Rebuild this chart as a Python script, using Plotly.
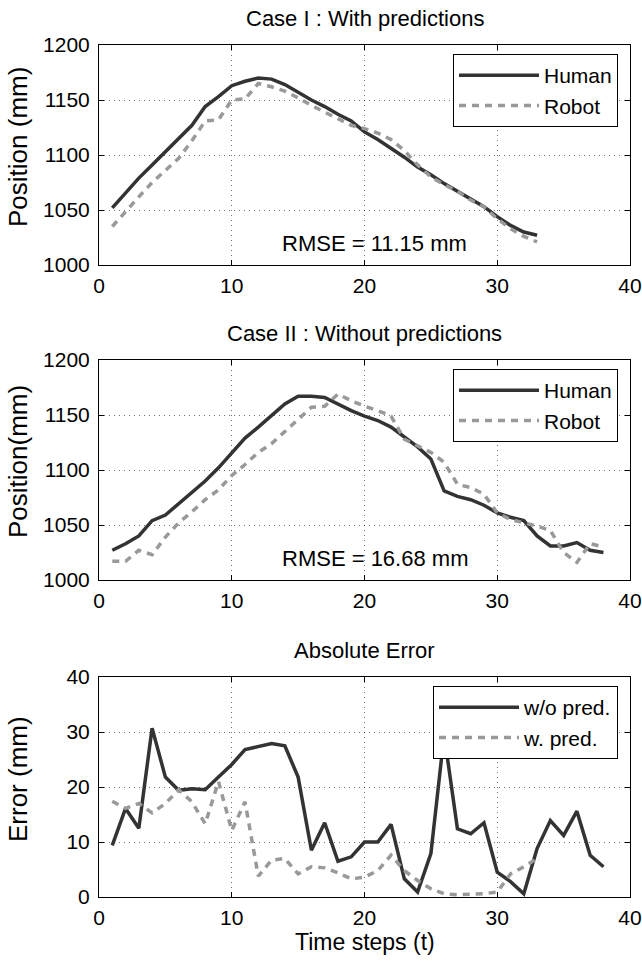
import plotly.graph_objects as go

# ---------------- data ----------------
t1 = list(range(1, 34))
human1 = [1052, 1066, 1079, 1091, 1103, 1115, 1127, 1144, 1153, 1163, 1167, 1170, 1169, 1164, 1157,
          1150, 1144, 1137, 1131, 1121, 1114, 1106, 1098, 1089, 1082, 1074, 1067, 1060, 1053, 1044,
          1036, 1030, 1027]
robot1 = [1035, 1049, 1062, 1075, 1086, 1097, 1113, 1131, 1132, 1150, 1151, 1165, 1162, 1158, 1152,
          1145, 1139, 1133, 1127, 1124, 1120, 1114, 1104, 1091, 1080, 1073, 1067, 1059, 1053, 1042,
          1033, 1026, 1021]

t2 = list(range(1, 39))
human2 = [1027, 1033, 1040, 1054, 1059, 1069, 1080, 1090, 1102, 1116, 1129, 1139, 1149, 1160, 1167,
          1167, 1166, 1160, 1154, 1149, 1145, 1139, 1130, 1121, 1110, 1081, 1076, 1073, 1068, 1061,
          1057, 1054, 1040, 1031, 1031, 1034, 1027, 1025]
robot2 = [1017, 1017, 1027, 1023, 1039, 1052, 1062, 1073, 1082, 1095, 1105, 1116, 1124, 1135, 1146,
          1157, 1158, 1169, 1163, 1158, 1154, 1149, 1128, 1122, 1116, 1107, 1087, 1084, 1078, 1061,
          1055, 1052, 1049, 1045, 1025, 1016, 1033, 1030]

err_wo = [9.4, 16.1, 12.5, 30.7, 21.8, 19.4, 19.7, 19.5, 21.8, 24.1, 26.8, 27.3, 27.9, 27.5, 21.8,
          8.5, 13.5, 6.5, 7.3, 10.0, 10.0, 13.2, 3.3, 0.9, 7.9, 29.5, 12.4, 11.5, 13.5, 4.5,
          2.8, 0.6, 8.8, 13.9, 11.2, 15.6, 7.6, 5.5]
err_w = [17.4, 16.1, 17.0, 15.3, 17.0, 19.5, 17.3, 13.3, 21.0, 12.1, 17.3, 3.8, 6.7, 7.0, 4.2,
         5.5, 5.3, 4.4, 3.3, 3.6, 4.8, 7.6, 4.8, 3.0, 1.5, 0.6, 0.4, 0.5, 0.6, 0.9,
         4.2, 5.5, 7.0]

titles = ["Case I : With predictions", "Case II : Without predictions", "Absolute Error"]
ylabels = ["Position (mm)", "Position(mm)", "Error (mm)"]
rmse_texts = ["RMSE = 11.15 mm", "RMSE = 16.68 mm"]
xlabel = "Time steps (t)"

# ---------------- style ----------------
W, H = 642, 964
FONT = "Liberation Sans, Arial, sans-serif"
DARK = "#333333"
GRAY = "#999999"
LW = 3.5
DASH = "7px,6px"

L, R = 99, 630
tops = [45, 360, 677]
PH = 220


def px(v):
    return v / W


def py(v):
    return 1 - v / H


fig = go.Figure()

fig.add_trace(go.Scatter(x=t1, y=human1, mode="lines", name="Human",
                         line=dict(color=DARK, width=LW), xaxis="x", yaxis="y", legend="legend"))
fig.add_trace(go.Scatter(x=t1, y=robot1, mode="lines", name="Robot",
                         line=dict(color=GRAY, width=LW, dash=DASH), xaxis="x", yaxis="y", legend="legend"))
fig.add_trace(go.Scatter(x=t2, y=human2, mode="lines", name="Human",
                         line=dict(color=DARK, width=LW), xaxis="x2", yaxis="y2", legend="legend2"))
fig.add_trace(go.Scatter(x=t2, y=robot2, mode="lines", name="Robot",
                         line=dict(color=GRAY, width=LW, dash=DASH), xaxis="x2", yaxis="y2", legend="legend2"))
fig.add_trace(go.Scatter(x=t2, y=err_wo, mode="lines", name="w/o pred.",
                         line=dict(color=DARK, width=LW), xaxis="x3", yaxis="y3", legend="legend3"))
fig.add_trace(go.Scatter(x=t1, y=err_w, mode="lines", name="w. pred.",
                         line=dict(color=GRAY, width=LW, dash=DASH), xaxis="x3", yaxis="y3", legend="legend3"))

axis_common = dict(showline=True, linecolor="black", linewidth=1, mirror="ticks",
                   ticks="inside", ticklen=5, tickcolor="black", tickwidth=1,
                   showgrid=True, gridcolor="rgba(0,0,0,0.55)", gridwidth=1, griddash="1px,4px",
                   zeroline=False, automargin=False,
                   tickfont=dict(family=FONT, size=21, color="black"))

layout = dict(template="none", width=W, height=H, margin=dict(l=0, r=0, t=0, b=0, pad=0, autoexpand=False),
              paper_bgcolor="white", plot_bgcolor="white", hovermode=False,
              font=dict(family=FONT, color="black"), annotations=[])

yranges = [[1000, 1200], [1000, 1200], [0, 40]]
ydticks = [50, 50, 10]
for i in range(3):
    s = "" if i == 0 else str(i + 1)
    layout["xaxis" + s] = dict(axis_common, domain=[px(L), px(R)], range=[0, 40], dtick=10,
                               anchor="y" + s, ticklabelstandoff=2)
    layout["yaxis" + s] = dict(axis_common, domain=[py(tops[i] + PH), py(tops[i])],
                               range=yranges[i], dtick=ydticks[i], anchor="x" + s,
                               ticklabelstandoff=4)
    legname = "legend" + s
    layout[legname] = dict(x=px(618), xanchor="right", y=py(tops[i] + 9), yanchor="top",
                           bgcolor="white", bordercolor="black", borderwidth=1,
                           font=dict(family=FONT, size=21, color="black"),
                           itemwidth=80, tracegroupgap=0)
    layout["annotations"].append(dict(text=titles[i], x=px((L + R) / 2), y=py(tops[i] - 27),
                                      xref="paper", yref="paper", showarrow=False,
                                      xanchor="center", yanchor="middle",
                                      font=dict(family=FONT, size=22, color="black")))
    layout["annotations"].append(dict(text=ylabels[i], x=px(18), y=py(tops[i] + PH / 2 - 8),
                                      xref="paper", yref="paper", showarrow=False, textangle=-90,
                                      xanchor="center", yanchor="middle",
                                      font=dict(family=FONT, size=26, color="black")))

for i in range(2):
    s = "" if i == 0 else str(i + 1)
    layout["annotations"].append(dict(text=rmse_texts[i], x=13.6, y=1020, xref="x" + s, yref="y" + s,
                                      showarrow=False, xanchor="left", yanchor="middle",
                                      font=dict(family=FONT, size=22, color="black")))

layout["annotations"].append(dict(text=xlabel, x=px((L + R) / 2), y=py(942), xref="paper", yref="paper",
                                  showarrow=False, xanchor="center", yanchor="middle",
                                  font=dict(family=FONT, size=23, color="black")))

fig.update_layout(**layout)
# remove the default 8px page margin so the 642x964 figure fills the window exactly
fig.write_html("out.html", config={"displayModeBar": False, "staticPlot": True},
               post_script="document.body.style.margin='0';")
